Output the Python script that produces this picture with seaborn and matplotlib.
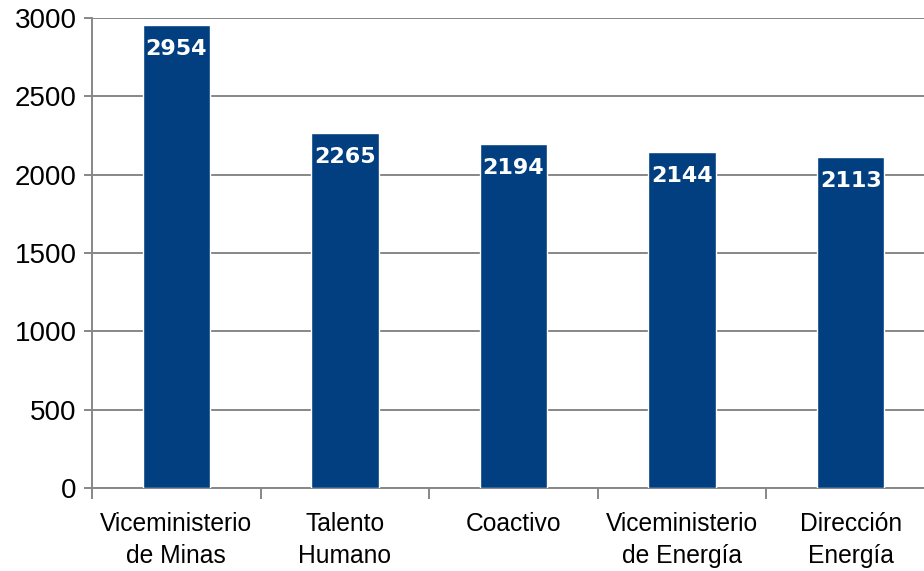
import matplotlib
matplotlib.use("Agg")
import matplotlib.pyplot as plt
import seaborn as sns
import pandas as pd
from matplotlib.ticker import FixedLocator

categories = ["Viceministerio\nde Minas", "Talento\nHumano", "Coactivo",
              "Viceministerio\nde Energía", "Dirección\nEnergía"]
values = [2954, 2265, 2194, 2144, 2113]
yticks = [0, 500, 1000, 1500, 2000, 2500, 3000]

sns.set_style("white")
plt.rcParams['font.family'] = ['Liberation Sans', 'DejaVu Sans']

df = pd.DataFrame({"cat": categories, "val": values})

fig = plt.figure(figsize=(9.24, 5.71), dpi=100)
ax = fig.add_axes([92/924, 83/571, 843/924, 470/571])

sns.barplot(data=df, x="cat", y="val", color="#023F80", width=0.4,
            saturation=1, ax=ax, zorder=3)

ax.set_ylim(0, 3000)
ax.set_xlim(-0.5, len(categories) - 0.5)
ax.set_yticks(yticks)
ax.yaxis.grid(True, color="#878787", linewidth=1.4, zorder=0)
ax.set_axisbelow(True)
ax.set_xlabel("")
ax.set_ylabel("")

for s in ["top", "right"]:
    ax.spines[s].set_visible(False)
for s in ["left", "bottom"]:
    ax.spines[s].set_color("#878787")
    ax.spines[s].set_linewidth(1.4)

ax.tick_params(axis="y", which="major", direction="out", length=6, width=1.4,
               color="#878787", labelsize=20, pad=5, left=True, labelcolor="black")
ax.tick_params(axis="x", which="major", length=0, labelsize=17.7, pad=17,
               labelcolor="black")
ax.xaxis.set_minor_locator(FixedLocator([i - 0.5 for i in range(len(categories) + 1)]))
ax.tick_params(axis="x", which="minor", direction="out", length=8, width=1.4,
               color="#878787", bottom=True)
for lbl in ax.get_xticklabels():
    lbl.set_linespacing(1.45)

for i, v in enumerate(values):
    ax.annotate(str(v), (i, v), xytext=(0, -17), textcoords="offset points",
                ha="center", va="center", color="white", fontsize=16,
                fontweight="bold", family="DejaVu Sans", zorder=5)

fig.savefig("out.png", dpi=100)
